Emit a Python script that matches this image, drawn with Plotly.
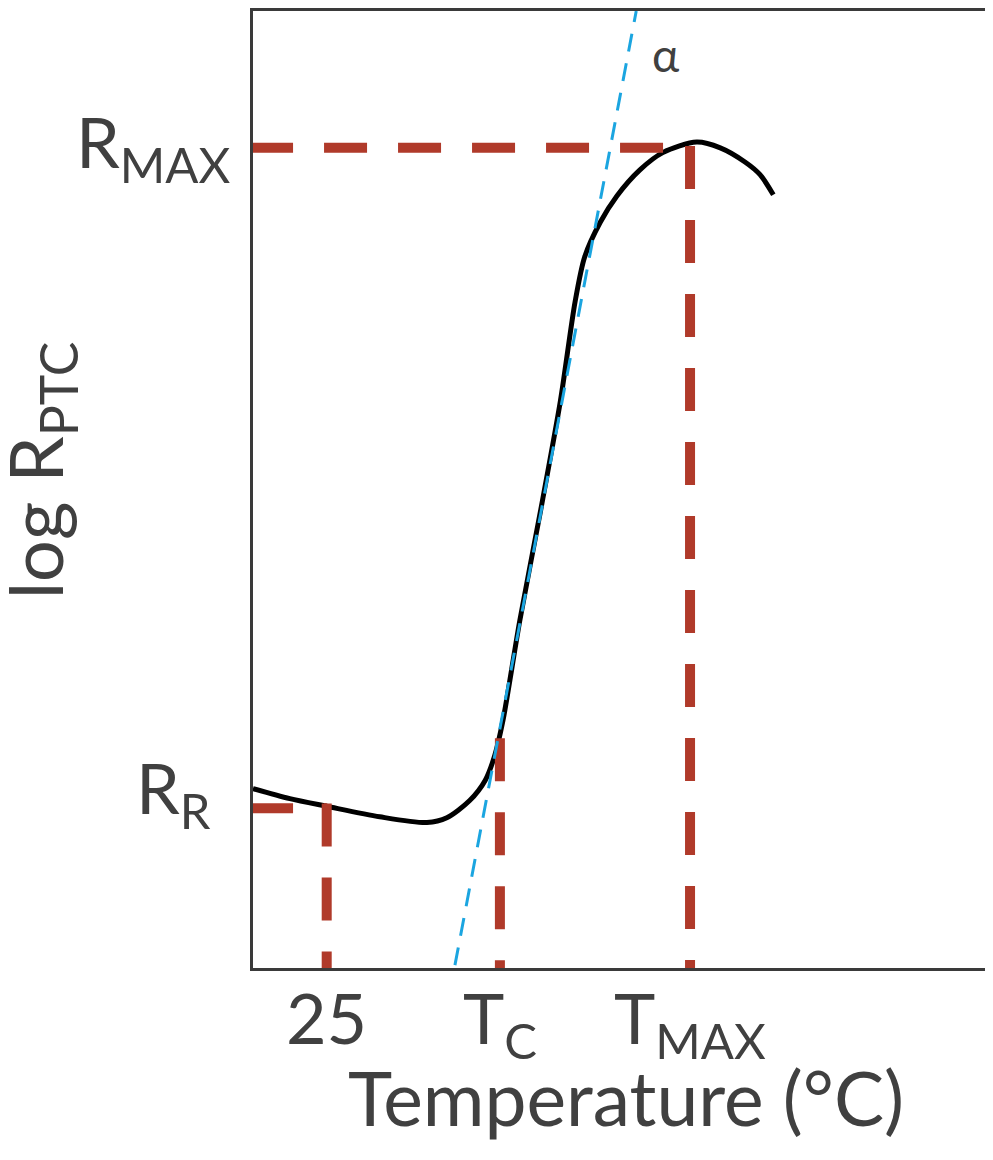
import plotly.graph_objects as go

# PTC thermistor characteristic, normalised units (0-100 on both axes)
temp = [0, 5.0, 10.0, 17.2, 23.6, 26.3, 29.4, 31.5, 32.8, 33.9, 36.2, 39.0, 41.7,
        43.7, 45.0, 47.1, 49.4, 52.5, 55.6, 60.2, 63.4, 66.8, 68.8, 70.6]
log_r = [18.75, 17.7, 16.9, 15.8, 15.2, 15.7, 17.5, 19.6, 22.2, 25.8, 36.3, 47.7, 59.2,
         69.6, 74.3, 77.9, 80.7, 83.4, 85.2, 86.3, 85.7, 84.2, 82.9, 80.8]

# characteristic points
t25 = 10.0
t_c = 33.5
t_max = 59.3
r_r = 16.7
r_max = 85.7
tc_top = 24.0

# tangent (alpha) line
tan_x = [27.4, 52.0]
tan_y = [0.3, 100.0]

x_labels = ["25", "T<sub>C</sub>", "T<sub>MAX</sub>"]
x_label_pos = [t25, t_c, t_max]

RED = "#B03A2A"
TXT = "#404040"
FONT = "Lato"

fig = go.Figure()

fig.add_trace(go.Scatter(x=temp, y=log_r, mode="lines",
                         line=dict(color="black", width=5, shape="spline", smoothing=0.8)))

red_line = dict(color=RED, width=10, dash="43px,31px")
# R_MAX level and T_MAX drop
fig.add_trace(go.Scatter(x=[-0.4, 56.0], y=[r_max, r_max], mode="lines", line=red_line))
fig.add_trace(go.Scatter(x=[t_max, t_max], y=[r_max + 0.2, -1], mode="lines", line=red_line))
# R_R level and 25 C drop
fig.add_trace(go.Scatter(x=[-0.4, t25], y=[r_r, r_r], mode="lines", line=red_line))
fig.add_trace(go.Scatter(x=[t25, t25], y=[r_r + 0.5, -1], mode="lines", line=red_line))
# T_C drop
fig.add_trace(go.Scatter(x=[t_c, t_c], y=[tc_top, -1], mode="lines", line=red_line))

fig.add_trace(go.Scatter(x=tan_x, y=tan_y, mode="lines",
                         line=dict(color="#1BA5E0", width=3, dash="18px,12px")))

big = dict(family=FONT, size=70, color=TXT)

for lab, xv in zip(x_labels, x_label_pos):
    fig.add_annotation(x=xv, y=0, xref="x", yref="y", text=lab, showarrow=False,
                       xanchor="center", yanchor="top", yshift=-5, font=big)

fig.add_annotation(x=0, y=r_max, xref="x", yref="y", text="R<sub>MAX</sub>", showarrow=False,
                   xanchor="right", yanchor="middle", xshift=-20, yshift=2, font=big)
fig.add_annotation(x=0, y=r_r, xref="x", yref="y", text="R<sub>R</sub>", showarrow=False,
                   xanchor="right", yanchor="middle", xshift=-40, yshift=16, font=big)
fig.add_annotation(x=0.5, y=0, xref="paper", yref="paper", text="Temperature (°C)",
                   showarrow=False, xanchor="center", yanchor="top", yshift=-82, xshift=4,
                   font=dict(family=FONT, size=75, color=TXT))
fig.add_annotation(x=0, y=0.52, xref="paper", yref="paper", text="log R<sub>PTC</sub>",
                   showarrow=False, textangle=-90, xanchor="center", yanchor="middle",
                   xshift=-213, font=dict(family=FONT, size=74, color=TXT))
fig.add_annotation(x=56.0, y=95.5, xref="x", yref="y", text="α", showarrow=False,
                   font=dict(family=FONT, size=46, color=TXT))

axis = dict(range=[0, 100], showgrid=False, zeroline=False, showticklabels=False,
            showline=True, mirror=True, linecolor="#3a3a3a", linewidth=3, ticks="")

# page body adds 8px offset, so the figure is sized to fit the window
fig.update_layout(
    width=985, height=1152,
    margin=dict(l=245, r=3, t=0, b=192),
    plot_bgcolor="white", paper_bgcolor="white",
    showlegend=False,
    xaxis=axis, yaxis=axis,
)

fig.write_html("out.html")
